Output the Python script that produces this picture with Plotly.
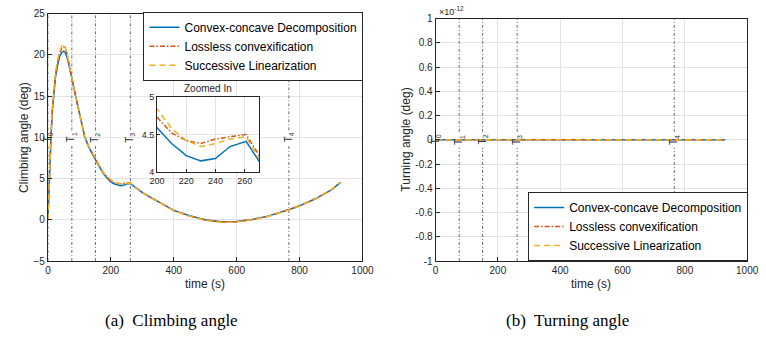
import plotly.graph_objects as go

# ---------------- data ----------------
t_climb = [0, 2, 4, 7, 10, 14, 18, 24, 30, 37, 44, 50, 55, 60, 66, 73, 80, 87, 95, 105,
           117, 130, 145, 160, 176, 192, 200, 210, 220, 230, 240, 250, 261, 270, 285, 300,
           325, 350, 375, 400, 450, 500, 550, 600, 650, 700, 767, 800, 850, 900, 930]

climb_ccd = [0, 2.6, 5.0, 8.6, 10.3, 13.2, 15.2, 17.3, 18.6, 19.8, 20.3, 20.45, 20.3, 19.8,
             18.9, 17.6, 16.3, 15.0, 13.7, 12.1, 10.0, 8.8, 7.7, 6.6, 5.6, 4.9, 4.59, 4.38,
             4.22, 4.15, 4.18, 4.34, 4.41, 4.14, 3.7, 3.3, 2.75, 2.25, 1.7, 1.15, 0.5, 0.0,
             -0.22, -0.2, 0.05, 0.45, 1.25, 1.7, 2.55, 3.6, 4.55]

climb_lc = [0, 2.6, 5.0, 8.6, 10.4, 13.3, 15.3, 17.5, 18.9, 20.2, 20.8, 21.0, 20.8, 20.2,
            19.1, 17.7, 16.4, 15.1, 13.8, 12.2, 10.1, 8.9, 7.8, 6.7, 5.7, 5.05, 4.73, 4.52,
            4.42, 4.38, 4.44, 4.47, 4.5, 4.22, 3.75, 3.32, 2.76, 2.25, 1.7, 1.15, 0.48, -0.02,
            -0.25, -0.22, 0.03, 0.44, 1.24, 1.7, 2.55, 3.6, 4.55]

climb_sl = [0, 2.8, 5.3, 8.9, 10.7, 13.6, 15.6, 17.8, 19.2, 20.4, 21.1, 21.3, 21.0, 20.3,
            19.1, 17.7, 16.4, 15.1, 13.8, 12.2, 10.1, 8.9, 7.8, 6.7, 5.7, 5.1, 4.84, 4.58,
            4.42, 4.34, 4.38, 4.44, 4.47, 4.18, 3.72, 3.3, 2.74, 2.23, 1.68, 1.12, 0.45, -0.05,
            -0.3, -0.25, 0.0, 0.42, 1.22, 1.68, 2.53, 3.58, 4.55]

t_turn = [0, 50, 100, 150, 200, 250, 300, 400, 500, 600, 700, 800, 900, 930]
turn_ccd = [0.0, 0.0, 0.0, 0.0, 0.0, 0.0, 0.0, 0.0, 0.0, 0.0, 0.0, 0.0, 0.0, 0.0]
turn_lc = [0.0, 0.0, 0.0, 0.0, 0.0, 0.0, 0.0, 0.0, 0.0, 0.0, 0.0, 0.0, 0.0, 0.0]
turn_sl = [0.0, 0.0, 0.0, 0.0, 0.0, 0.0, 0.0, 0.0, 0.0, 0.0, 0.0, 0.0, 0.0, 0.0]

phase_times = [0, 76, 151, 262, 766]
phase_labels = ["T<sub>0</sub>", "T<sub>1</sub>", "T<sub>2</sub>", "T<sub>3</sub>", "T<sub>4</sub>"]

series_names = ["Convex-concave Decomposition", "Lossless convexification", "Successive Linearization"]
x_ticks = [0, 200, 400, 600, 800, 1000]
climb_yticks = [-5, 0, 5, 10, 15, 20, 25]
turn_scale = 1e-12
turn_ytick_labels = ["-1", "-0.8", "-0.6", "-0.4", "-0.2", "0", "0.2", "0.4", "0.6", "0.8", "1"]
turn_ytick_units = [-1, -0.8, -0.6, -0.4, -0.2, 0, 0.2, 0.4, 0.6, 0.8, 1]
inset_xticks = [200, 220, 240, 260]
inset_yticks = [4, 4.5, 5]

# ---------------- styling ----------------
W, H = 766, 354
colors = ["#0072BD", "#D95319", "#EDB120"]
dashes = ["solid", "5px,2px,1.5px,2px", "6px,4px"]
AX = "#262626"
GRID = "#e3e3e3"
FONT = "Liberation Sans, Arial, sans-serif"


def px_x(p):
    return p / W


def px_y(p):
    return 1 - p / H


fig = go.Figure()

climb_sets = [climb_ccd, climb_lc, climb_sl]
turn_sets = [turn_ccd, turn_lc, turn_sl]

for i in range(3):
    fig.add_trace(go.Scatter(x=t_climb, y=climb_sets[i], mode="lines", name=series_names[i],
                             line=dict(color=colors[i], width=1.5, dash=dashes[i]),
                             xaxis="x", yaxis="y", legend="legend"))
for i in range(3):
    fig.add_trace(go.Scatter(x=t_turn, y=turn_sets[i], mode="lines", name=series_names[i],
                             line=dict(color=colors[i], width=1.5, dash=dashes[i]),
                             xaxis="x2", yaxis="y2", legend="legend2"))
for i in range(3):
    fig.add_trace(go.Scatter(x=t_climb, y=climb_sets[i], mode="lines", name=series_names[i],
                             line=dict(color=colors[i], width=1.5, dash=dashes[i]),
                             xaxis="x3", yaxis="y3", showlegend=False))

axis_common = dict(showline=True, linecolor=AX, linewidth=1, mirror=True, ticks="inside",
                   ticklen=4, tickcolor=AX, showgrid=True, gridcolor=GRID, gridwidth=1,
                   zeroline=False, tickfont=dict(family=FONT, size=10, color=AX))
inset_common = {**axis_common, "tickfont": dict(family=FONT, size=9, color=AX), "ticklen": 3}

fig.update_layout(
    width=W, height=H, margin=dict(l=0, r=0, t=0, b=0),
    paper_bgcolor="white", plot_bgcolor="white",
    font=dict(family=FONT, color=AX),
    xaxis=dict(domain=[px_x(41), px_x(364)], range=[0, 1000], tickvals=x_ticks,
               anchor="y", **axis_common),
    yaxis=dict(domain=[px_y(264), px_y(8)], range=[-5, 25], tickvals=climb_yticks,
               anchor="x", **axis_common),
    xaxis2=dict(domain=[px_x(439), px_x(759)], range=[0, 1000], tickvals=x_ticks,
                anchor="y2", **axis_common),
    yaxis2=dict(domain=[px_y(264), px_y(13)], range=[-turn_scale, turn_scale],
                tickvals=[v * turn_scale for v in turn_ytick_units], ticktext=turn_ytick_labels,
                anchor="x2", **axis_common),
    xaxis3=dict(domain=[px_x(153), px_x(258)], range=[200, 270], tickvals=inset_xticks,
                anchor="y3", **inset_common),
    yaxis3=dict(domain=[px_y(172), px_y(94)], range=[4, 5], tickvals=inset_yticks,
                anchor="x3", **inset_common),
    legend=dict(x=px_x(365), y=px_y(6), xanchor="right", yanchor="top",
                bgcolor="white", bordercolor=AX, borderwidth=1,
                font=dict(family=FONT, size=12, color="black"), tracegroupgap=0,
                itemwidth=30),
    legend2=dict(x=px_x(760), y=px_y(264), xanchor="right", yanchor="bottom",
                 bgcolor="white", bordercolor=AX, borderwidth=1,
                 font=dict(family=FONT, size=12, color="black"), tracegroupgap=0,
                 itemwidth=30),
)

# phase lines with a gap for the labels
shapes = []
annots = []
for xa, ya, ymin, ymax, ymid, gap in [("x", "y", -5, 25, 10, 0.85),
                                       ("x2", "y2", -turn_scale, turn_scale, 0, 0.065 * turn_scale)]:
    for tt, lab in zip(phase_times, phase_labels):
        for y0, y1 in [(ymin, ymid - gap), (ymid + gap, ymax)]:
            shapes.append(dict(type="line", xref=xa, yref=ya, x0=tt, x1=tt, y0=y0, y1=y1,
                               line=dict(color="#6e6e6e", width=1, dash="3px,2px,1px,2px"),
                               layer="between"))
        annots.append(dict(x=tt, y=ymid, xref=xa, yref=ya, text=lab, textangle=-90,
                           showarrow=False, xanchor="center", yanchor="middle",
                           font=dict(family=FONT, size=10, color="#333333")))

# axis titles and captions
annots += [
    dict(x=px_x(202), y=px_y(288), xref="paper", yref="paper", text="time (s)", showarrow=False,
         font=dict(family=FONT, size=12, color=AX), xanchor="center", yanchor="middle"),
    dict(x=px_x(599), y=px_y(288), xref="paper", yref="paper", text="time (s)", showarrow=False,
         font=dict(family=FONT, size=12, color=AX), xanchor="center", yanchor="middle"),
    dict(x=px_x(17), y=px_y(136), xref="paper", yref="paper", text="Climbing angle (deg)",
         textangle=-90, showarrow=False, font=dict(family=FONT, size=12, color=AX),
         xanchor="center", yanchor="middle"),
    dict(x=px_x(409), y=px_y(138), xref="paper", yref="paper", text="Turning angle (deg)",
         textangle=-90, showarrow=False, font=dict(family=FONT, size=12, color=AX),
         xanchor="center", yanchor="middle"),
    dict(x=px_x(205), y=px_y(85), xref="paper", yref="paper", text="Zoomed In", showarrow=False,
         font=dict(family=FONT, size=10, color=AX), xanchor="center", yanchor="middle"),
    dict(x=px_x(441), y=px_y(5), xref="paper", yref="paper", text="×10<sup>-12</sup>",
         showarrow=False, font=dict(family=FONT, size=9, color=AX), xanchor="left",
         yanchor="middle"),
    dict(x=px_x(168), y=px_y(326), xref="paper", yref="paper", text="(a)  Climbing angle",
         showarrow=False, font=dict(family="Liberation Serif, serif", size=17, color="black"),
         xanchor="center", yanchor="middle"),
    dict(x=px_x(574), y=px_y(326), xref="paper", yref="paper", text="(b)  Turning angle",
         showarrow=False, font=dict(family="Liberation Serif, serif", size=17, color="black"),
         xanchor="center", yanchor="middle"),
]

fig.update_layout(shapes=shapes, annotations=annots)
fig.write_html("out.html")
